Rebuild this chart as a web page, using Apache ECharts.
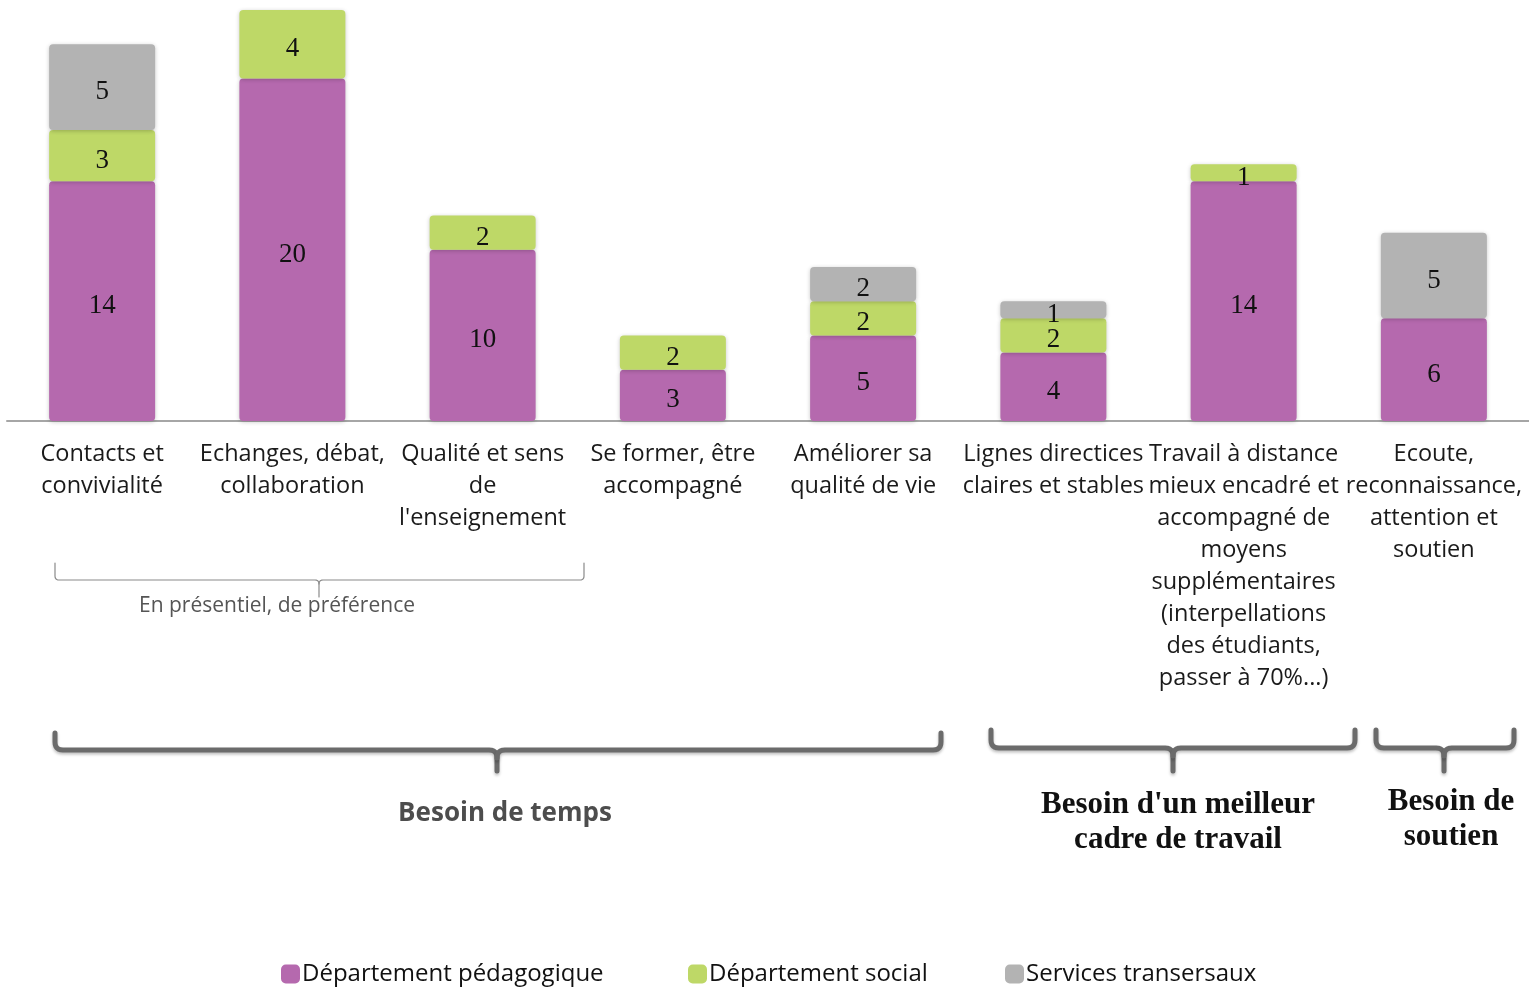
<!DOCTYPE html>
<html>
<head>
<meta charset="utf-8">
<script src="https://cdn.jsdelivr.net/npm/echarts@6/dist/echarts.min.js"></script>
<style>
  html, body { margin: 0; padding: 0; background: #fff; }
  #chart { width: 1529px; height: 988px; }
</style>
</head>
<body>
<div id="chart"></div>
<script>
// Categories (tick labels, with their line breaks)
const categories = [
  "Contacts et\nconvivialité",
  "Echanges, débat,\ncollaboration",
  "Qualité et sens\nde\nl'enseignement",
  "Se former, être\naccompagné",
  "Améliorer sa\nqualité de vie",
  "Lignes directices\nclaires et stables",
  "Travail à distance\nmieux encadré et\naccompagné de\nmoyens\nsupplémentaires\n(interpellations\ndes étudiants,\npasser à 70%...)",
  "Ecoute,\nreconnaissance,\nattention et\nsoutien"
];

// Counts per department (null = no answer from that department)
const pedagogique = [14, 20, 10, 3, 5, 4, 14, 6];
const social      = [3, 4, 2, 2, 2, 2, 1, null];
const transversal = [5, null, null, null, 2, 1, null, 5];

const seriesNames = ["Département pédagogique", "Département social", "Services transersaux"];
const seriesColors = ["#B569AE", "#BED867", "#B3B3B3"];

const uiFont = "'Open Sans', sans-serif";
const valueFont = "'Liberation Serif', serif";

function barSeries(name, data, color) {
  return {
    name: name,
    type: "bar",
    stack: "total",
    data: data,
    barWidth: 106,
    itemStyle: {
      color: color,
      borderRadius: 4,
      shadowBlur: 4,
      shadowColor: "rgba(0,0,0,0.22)",
      shadowOffsetY: 1
    },
    label: {
      show: true,
      position: "inside",
      offset: [0, 5],
      color: "#111",
      fontFamily: valueFont,
      fontSize: 27
    }
  };
}

// Quadratic corner sampled into points
function corner(p0, c, p1, out) {
  const n = 6;
  for (let i = 1; i <= n; i++) {
    const t = i / n, u = 1 - t;
    out.push([u * u * p0[0] + 2 * u * t * c[0] + t * t * p1[0],
              u * u * p0[1] + 2 * u * t * c[1] + t * t * p1[1]]);
  }
}

// Brace: ends rise to yTop, bar at yMid, tip down to yTip at xc
function braceParts(x0, x1, xc, yTop, yMid, yTip, r) {
  const left = [[x0, yTop], [x0, yMid - r]];
  corner([x0, yMid - r], [x0, yMid], [x0 + r, yMid], left);
  left.push([xc - r, yMid]);
  corner([xc - r, yMid], [xc, yMid], [xc, yMid + r], left);
  left.push([xc, yTip]);
  const right = [[x1, yTop], [x1, yMid - r]];
  corner([x1, yMid - r], [x1, yMid], [x1 - r, yMid], right);
  right.push([xc + r, yMid]);
  corner([xc + r, yMid], [xc, yMid], [xc, yMid + r], right);
  return [left, right];
}

function brace(x0, x1, xc, yTop, yMid, yTip, r, width, color, shadow) {
  return braceParts(x0, x1, xc, yTop, yMid, yTip, r).map(function (pts) {
    return {
      type: "polyline",
      shape: { points: pts },
      style: {
        fill: null,
        stroke: color,
        lineWidth: width,
        lineCap: "round",
        lineJoin: "round",
        shadowBlur: shadow ? 3 : 0,
        shadowColor: "rgba(0,0,0,0.25)",
        shadowOffsetY: shadow ? 2 : 0
      },
      silent: true
    };
  });
}

function legendAt(name, left) {
  return {
    data: [name],
    left: left,
    top: 962,
    padding: 0,
    itemWidth: 19,
    itemHeight: 19,
    icon: "roundRect",
    textStyle: {
      fontFamily: uiFont,
      fontSize: 24,
      color: "#111",
      padding: [0, 0, 0, -3]
    }
  };
}

const chart = echarts.init(document.getElementById("chart"), null, { renderer: "canvas" });

const graphics = []
  // thin brace under the first three groups
  .concat(brace(55, 584, 319, 563, 580, 597, 4, 1.2, "#8a8a8a", false))
  // thick group braces
  .concat(brace(55, 941, 497, 733, 750, 771, 8, 5, "#6B6B6B", true))
  .concat(brace(991, 1355, 1173, 730, 748, 771, 8, 5, "#6B6B6B", true))
  .concat(brace(1376, 1514, 1444, 730, 748, 771, 8, 5, "#6B6B6B", true))
  .concat([
    {
      type: "text",
      x: 277,
      y: 606,
      style: {
        text: "En présentiel, de préférence",
        fontFamily: uiFont,
        fontSize: 21,
        fill: "#555555",
        align: "center",
        verticalAlign: "middle"
      },
      silent: true
    },
    {
      type: "text",
      x: 505,
      y: 814,
      style: {
        text: "Besoin de temps",
        fontFamily: uiFont,
        fontWeight: "bold",
        fontSize: 26,
        fill: "#4D4D4D",
        align: "center",
        verticalAlign: "middle"
      },
      silent: true
    },
    {
      type: "text",
      x: 1178,
      y: 822,
      style: {
        text: "Besoin d'un meilleur\ncadre de travail",
        fontFamily: valueFont,
        fontWeight: "bold",
        fontSize: 31,
        lineHeight: 35,
        fill: "#111",
        align: "center",
        verticalAlign: "middle"
      },
      silent: true
    },
    {
      type: "text",
      x: 1451,
      y: 819,
      style: {
        text: "Besoin de\nsoutien",
        fontFamily: valueFont,
        fontWeight: "bold",
        fontSize: 31,
        lineHeight: 35,
        fill: "#111",
        align: "center",
        verticalAlign: "middle"
      },
      silent: true
    }
  ]);

chart.setOption({
  animation: false,
  backgroundColor: "#ffffff",
  grid: { left: 7, right: 0, top: 10, bottom: 567, containLabel: false },
  xAxis: {
    type: "category",
    data: categories,
    axisLine: { show: true, lineStyle: { color: "#A6A6A6", width: 2 } },
    axisTick: { show: false },
    axisLabel: {
      interval: 0,
      margin: 17,
      color: "#1a1a1a",
      fontFamily: uiFont,
      fontSize: 23.5,
      lineHeight: 32,
      align: "center"
    }
  },
  yAxis: {
    type: "value",
    min: 0,
    max: 24,
    show: false,
    splitLine: { show: false }
  },
  legend: [
    legendAt(seriesNames[0], 281),
    legendAt(seriesNames[1], 688),
    legendAt(seriesNames[2], 1005)
  ],
  series: [
    barSeries(seriesNames[0], pedagogique, seriesColors[0]),
    barSeries(seriesNames[1], social, seriesColors[1]),
    barSeries(seriesNames[2], transversal, seriesColors[2])
  ],
  graphic: graphics
});
</script>
</body>
</html>
